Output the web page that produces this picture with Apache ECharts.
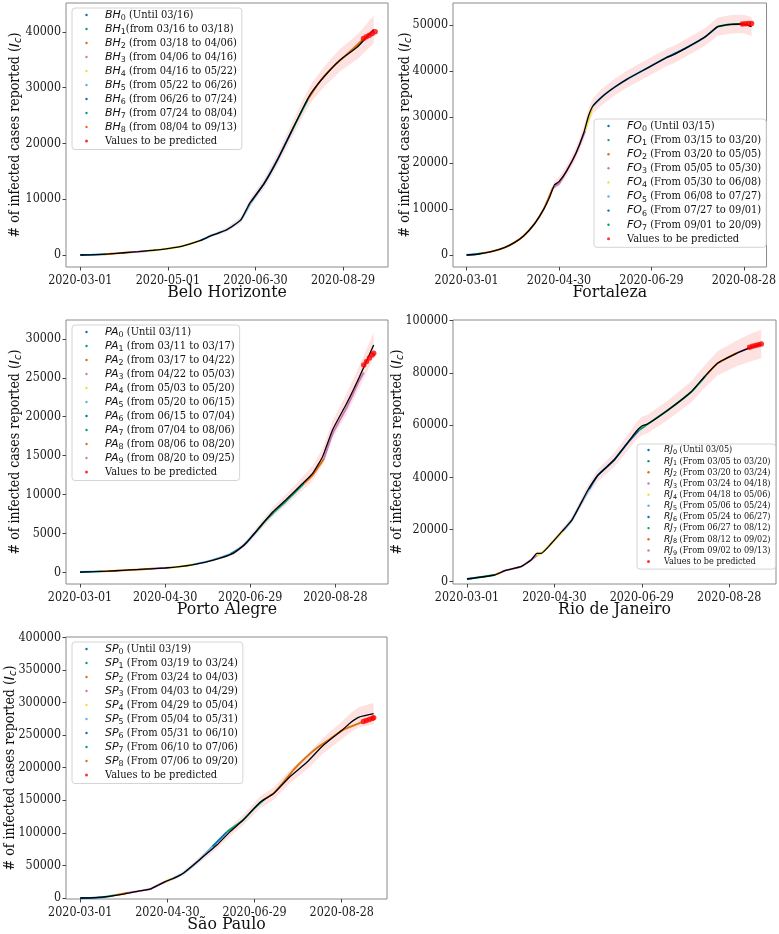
<!DOCTYPE html>
<html><head><meta charset="utf-8">
<script src="https://cdn.jsdelivr.net/npm/echarts@6/dist/echarts.min.js"></script>
<style>html,body{margin:0;padding:0;background:#fff}#c{width:779px;height:934px}</style>
</head><body><div id="c"></div>
<script>
// ---------------- DATA (day index from 2020-03-01) ----------------
// Belo Horizonte
const bhFitDays = [0,10,20,30,40,50,61,70,82,90,100,110,116,126,135,144,153,158,167,178,190,201];
const bhFitVals = [0,60,200,400,600,850,1200,1600,2570,3500,4480,6300,9260,12850,17030,21800,26580,28970,31950,34950,37330,40400];
const bhBandHalf = [20,30,40,50,60,80,100,130,200,280,400,550,700,900,1100,1300,1500,1600,1800,2000,2200,2500];
const bhObsDays = [0,8,15,17,25,36,46,55,65,74,82,90,100,110,117,126,135,145,150,156,165,175,185,194];
const bhObsVals = [0,40,110,140,300,520,720,1000,1350,1900,2570,3500,4480,6300,9500,12850,17030,22300,24900,27900,31400,34200,36500,38700];
const bhPredDays = [194,196,198,200,202];
const bhPredVals = [38800,39100,39400,39700,40000];
const bhSegStarts = [0,15,17,36,46,82,117,145,156];
const bhLegend = [' (Until 03/16)','(from 03/16 to 03/18)',' (from 03/18 to 04/06)',' (from 04/06 to 04/16)',' (from 04/16 to 05/22)',' (from 05/22 to 06/26)',' (from 06/26 to 07/24)',' (from 07/24 to 08/04)',' (from 08/04 to 09/13)'];
const bhXTicks = ['2020-03-01','2020-05-01','2020-06-30','2020-08-29'];
const bhYTicks = [0,10000,20000,30000,40000];

// Fortaleza
const foFitDays = [0,8,16,25,31,37,44,50,54,57,60,65,71,76,79,82,88,96,104,117,130,134,142,155,163,172,180,185];
const foFitVals = [0,220,720,1670,2680,4130,6740,9930,12680,15220,15940,18300,22100,26450,30070,32390,34410,36450,38190,40580,42970,43480,44930,47460,49640,50150,50220,49640];
const foBandHalf = [30,40,60,80,100,150,250,400,600,800,1000,1200,1300,1500,1600,1700,1800,1800,1850,1900,1900,1900,1900,1900,2000,2000,2000,2100];
const foObsDays = [0,6,10,16,25,31,37,44,50,56,60,65,71,77,82,88,96,104,117,130,142,155,163,170,178];
const foObsVals = [0,160,400,720,1670,2680,4130,6740,9930,14600,15500,18300,22100,27000,32390,34410,36450,38190,40580,42970,44930,47460,49640,50100,50200];
const foPredDays = [179,181,183,185];
const foPredVals = [50200,50250,50300,50300];
const foSegStarts = [0,6,10,56,77,82,130,163];
const foLegend = [' (Until 03/15)',' (From 03/15 to 03/20)',' (From 03/20 to 05/05)',' (From 05/05 to 05/30)',' (From 05/30 to 06/08)',' (From 06/08 to 07/27)',' (From 07/27 to 09/01)',' (From 09/01 to 20/09)'];
const foXTicks = ['2020-03-01','2020-04-30','2020-06-29','2020-08-28'];
const foYTicks = [0,10000,20000,30000,40000,50000];

// Porto Alegre
const paFitDays = [0,10,20,30,40,50,60,70,80,94,108,117,122,126,136,145,157,164,171,178,188,197,207];
const paFitVals = [30,80,150,250,350,450,550,720,1000,1580,2440,3730,4800,5660,7790,9300,11440,12730,14860,18300,21730,25150,29230];
const paBandHalf = [20,20,30,30,40,50,60,70,90,150,250,350,420,480,600,700,850,950,1050,1150,1300,1450,1600];
const paObsDays = [0,10,16,25,35,45,52,63,70,80,90,100,106,115,125,130,136,145,150,158,164,172,178,188,197,200];
const paObsVals = [30,80,120,200,300,400,480,600,720,1000,1400,1950,2350,3400,5400,6500,7600,9100,10000,11440,12500,14600,17800,21200,24700,25700];
const paPredDays = [200,202,204,206,207];
const paPredVals = [26650,27100,27550,27950,28150];
const paSegStarts = [0,10,16,52,63,80,106,125,158,172];
const paLegend = [' (Until 03/11)',' (from 03/11 to 03/17)',' (from 03/17 to 04/22)',' (from 04/22 to 05/03)',' (from 05/03 to 05/20)',' (from 05/20 to 06/15)',' (from 06/15 to 07/04)',' (from 07/04 to 08/06)',' (from 08/06 to 08/20)',' (from 08/20 to 09/25)'];
const paXTicks = ['2020-03-01','2020-04-30','2020-06-29','2020-08-28'];
const paYTicks = [0,5000,10000,15000,20000,25000,30000];

// Rio de Janeiro
const rjFitDays = [0,19,26,37,44,48,51,58,65,72,77,83,90,101,110,116,120,124,138,154,163,172,186,195,202];
const rjFitVals = [1030,2570,4210,5750,8310,10880,10880,14710,19160,23640,28740,35130,40880,46630,53030,57470,59660,60420,65790,72800,78540,83680,87740,89810,91070];
const rjBandHalf = [150,250,350,450,550,600,650,800,1000,1300,1600,1900,2300,2700,3000,3300,3500,3500,3700,4000,4300,4600,5000,5300,5500];
const rjObsDays = [0,4,19,23,26,37,44,48,51,58,66,72,77,84,90,101,110,118,124,138,154,164,172,185,194];
const rjObsVals = [1030,1300,2570,3500,4210,5750,8310,10000,10880,14710,19500,23640,28740,35500,40880,46630,53030,58000,60400,65790,72800,79000,83680,87600,89700];
const rjPredDays = [194,196,198,200,202];
const rjPredVals = [89800,90200,90500,90800,91100];
const rjSegStarts = [0,4,19,23,48,66,84,118,164,185];
const rjLegend = [' (Until 03/05)',' (From 03/05 to 03/20)',' (From 03/20 to 03/24)',' (From 03/24 to 04/18)',' (From 04/18 to 05/06)',' (From 05/06 to 05/24)',' (From 05/24 to 06/27)',' (From 06/27 to 08/12)',' (From 08/12 to 09/02)',' (From 09/02 to 09/13)'];
const rjXTicks = ['2020-03-01','2020-04-30','2020-06-29','2020-08-28'];
const rjYTicks = [0,20000,40000,60000,80000,100000];

// São Paulo
const spFitDays = [0,10,20,30,40,48,54,59,65,71,82,94,103,112,124,133,144,156,167,181,186,192,202];
const spFitVals = [0,500,2500,6000,10500,13500,20000,25400,31000,38100,58400,81200,101500,119200,147200,159900,185300,208200,233500,258900,269000,277600,282800];
const spBandHalf = [200,300,500,800,1000,1500,2000,2500,3000,3500,4500,6000,7000,8000,9000,9500,10000,11000,12000,13500,14500,15500,16500];
const spObsDays = [0,10,18,24,33,40,48,54,59,64,71,82,91,101,112,120,127,133,140,147,155,164,172,181,188,194];
const spObsVals = [0,500,2000,4500,8000,10500,13500,20500,25400,30000,38100,58400,79000,101500,119200,138000,152000,160500,178000,197000,215000,232000,244000,258000,264500,270000];
const spPredDays = [195,197,199,201,202];
const spPredVals = [271000,272500,274000,275500,276500];
const spSegStarts = [0,18,23,33,59,64,91,101,127];
const spLegend = [' (Until 03/19)',' (From 03/19 to 03/24)',' (From 03/24 to 04/03)',' (From 04/03 to 04/29)',' (From 04/29 to 05/04)',' (From 05/04 to 05/31)',' (From 05/31 to 06/10)',' (From 06/10 to 07/06)',' (From 07/06 to 09/20)'];
const spXTicks = ['2020-03-01','2020-04-30','2020-06-29','2020-08-28'];
const spYTicks = [0,50000,100000,150000,200000,250000,300000,350000,400000];

const tickDays = [0,60,120,180];
const predName = 'Values to be predicted';

// ---------------- STYLE / LAYOUT ----------------
const SERIF = "'DejaVu Serif Condensed','Liberation Serif',serif";
const SANS = "'DejaVu Sans',sans-serif";
const palette = ['#0173b2','#029e73','#de6f0c','#cc78bc','#ece133','#56b4e9'];
const BAND = 'rgba(248,110,110,0.2)';
const SMOOTH = 0.15;

const panels = [
  {title:'Belo Horizonte', prefix:'BH', fitD:bhFitDays, fitV:bhFitVals, hw:bhBandHalf, obsD:bhObsDays, obsV:bhObsVals, predD:bhPredDays, predV:bhPredVals, seg:bhSegStarts, leg:bhLegend, xt:bhXTicks, yt:bhYTicks,
   grid:{left:66, top:3, width:322, height:264}, x:[-9.8,210.8], y:[-2150,45160], nameGap:43,
   legend:{left:72, top:8, fs:11, lh:14, gap:1.5, iw:27}},
  {title:'Fortaleza', prefix:'FO', fitD:foFitDays, fitV:foFitVals, hw:foBandHalf, obsD:foObsDays, obsV:foObsVals, predD:foPredDays, predV:foPredVals, seg:foSegStarts, leg:foLegend, xt:foXTicks, yt:foYTicks,
   grid:{left:453, top:3, width:324, height:264}, x:[-8.8,194.7], y:[-2610,54780], nameGap:40,
   legend:{left:594, top:119, fs:11, lh:14, gap:1.6, iw:27}},
  {title:'Porto Alegre', prefix:'PA', fitD:paFitDays, fitV:paFitVals, hw:paBandHalf, obsD:paObsDays, obsV:paObsVals, predD:paPredDays, predV:paPredVals, seg:paSegStarts, leg:paLegend, xt:paXTicks, yt:paYTicks,
   grid:{left:66, top:320, width:322, height:264}, x:[-9.86,217.1], y:[-1505,32440], nameGap:43,
   legend:{left:72, top:325, fs:11, lh:14, gap:1.5, iw:27}},
  {title:'Rio de Janeiro', prefix:'RJ', fitD:rjFitDays, fitV:rjFitVals, hw:rjBandHalf, obsD:rjObsDays, obsV:rjObsVals, predD:rjPredDays, predV:rjPredVals, seg:rjSegStarts, leg:rjLegend, xt:rjXTicks, yt:rjYTicks,
   grid:{left:453, top:320, width:323, height:264}, x:[-9.6,212.1], y:[-880,100270], nameGap:48,
   legend:{left:637, top:444, fs:9, lh:11, gap:1.16, iw:21}},
  {title:'São Paulo', prefix:'SP', fitD:spFitDays, fitV:spFitVals, hw:spBandHalf, obsD:spObsDays, obsV:spObsVals, predD:spPredDays, predV:spPredVals, seg:spSegStarts, leg:spLegend, xt:spXTicks, yt:spYTicks,
   grid:{left:66, top:637, width:321, height:264}, x:[-9.8,211.2], y:[-1520,400490], nameGap:48,
   legend:{left:72, top:642, fs:11, lh:14, gap:1.5, iw:27}}
];

const grids = [], xAxes = [], yAxes = [], series = [], legends = [];

panels.forEach((p, gi) => {
  grids.push(Object.assign({show:true, borderColor:'#8a8a8a', borderWidth:1, backgroundColor:'rgba(0,0,0,0)'}, p.grid));
  xAxes.push({
    type:'value', gridIndex:gi, min:p.x[0], max:p.x[1],
    axisLine:{show:false, onZero:false},
    axisTick:{show:true, customValues:tickDays, length:3.5, lineStyle:{color:'#444', width:1}},
    axisLabel:{customValues:tickDays, formatter:(v)=>p.xt[tickDays.indexOf(v)] || '', margin:8,
      fontFamily:SERIF, fontSize:12.4, color:'#1a1a1a'},
    splitLine:{show:false},
    name:p.title, nameLocation:'middle', nameGap:16, nameMoveOverlap:false,
    nameTextStyle:{fontFamily:SERIF, fontSize:17.5, color:'#111'}
  });
  yAxes.push({
    type:'value', gridIndex:gi, min:p.y[0], max:p.y[1],
    axisLine:{show:false, onZero:false},
    axisTick:{show:true, customValues:p.yt, length:3.5, lineStyle:{color:'#444', width:1}},
    axisLabel:{customValues:p.yt, formatter:(v)=>String(v), margin:5,
      fontFamily:SERIF, fontSize:12.4, color:'#1a1a1a'},
    splitLine:{show:false},
    name:'{a|# of infected cases reported (}{it|I}{sub|c}{a|)}',
    nameLocation:'middle', nameGap:p.nameGap, nameMoveOverlap:false,
    nameTextStyle:{color:'#111', rich:{
      a:{fontFamily:SERIF, fontSize:14, color:'#111', lineHeight:16},
      it:{fontFamily:SANS, fontStyle:'italic', fontSize:14, color:'#111', lineHeight:16},
      sub:{fontFamily:SANS, fontStyle:'italic', fontSize:10, color:'#111', lineHeight:10, verticalAlign:'bottom'}
    }}
  });

  // confidence band: polygon through fit ± half-width, positioned by the axes
  series.push({type:'custom', name:'band'+gi, xAxisIndex:gi, yAxisIndex:gi, silent:true, z:1, clip:true,
    data:[[p.fitD[0], p.fitV[0]]],
    renderItem:(params, api) => {
      const up = p.fitD.map((d,i)=>api.coord([d, p.fitV[i]+p.hw[i]]));
      const lo = p.fitD.map((d,i)=>api.coord([d, p.fitV[i]-p.hw[i]])).reverse();
      return {type:'polygon', shape:{points:up.concat(lo)}, style:{fill:BAND}};
    }});

  // observed segments
  const legNames = [];
  p.seg.forEach((s, k) => {
    const e = k+1 < p.seg.length ? p.seg[k+1] : Infinity;
    const pts = [];
    for (let i=0;i<p.obsD.length;i++) if (p.obsD[i] >= s && p.obsD[i] <= e) pts.push([p.obsD[i], p.obsV[i]]);
    if (e !== Infinity && (pts.length === 0 || pts[pts.length-1][0] < e)) {
      const ni = p.obsD.findIndex(d => d > e);
      if (ni >= 0) pts.push([p.obsD[ni], p.obsV[ni]]);
    }
    const name = p.prefix + k;
    legNames.push(name);
    const col = palette[k % palette.length];
    series.push({type:'line', name, xAxisIndex:gi, yAxisIndex:gi, data:pts,
      symbol:'circle', showSymbol:false, silent:true, smooth:SMOOTH,
      lineStyle:{color:col, width:1.9}, itemStyle:{color:col}, z:2});
  });

  // fitted curve
  series.push({type:'line', name:'fit'+gi, xAxisIndex:gi, yAxisIndex:gi,
    data:p.fitD.map((d,i)=>[d, p.fitV[i]]), symbol:'none', silent:true, smooth:SMOOTH,
    lineStyle:{color:'#000', width:1.3}, z:3});

  // predicted values
  series.push({type:'scatter', name:predName, xAxisIndex:gi, yAxisIndex:gi,
    data:p.predD.map((d,i)=>[d, p.predV[i]]), symbol:'circle', symbolSize:5.5, silent:true,
    itemStyle:{color:'#ff0000'}, z:4});

  legNames.push(predName);
  const L = p.legend;
  legends.push({
    data:legNames, orient:'vertical', left:L.left, top:L.top,
    itemWidth:L.iw, itemHeight:3, itemGap:L.gap, selectedMode:false,
    padding:[1.5, 5, 3, 0], backgroundColor:'rgba(255,255,255,0.85)',
    borderColor:'#d4d4d4', borderWidth:1, borderRadius:3,
    lineStyle:{color:'rgba(0,0,0,0)', opacity:0},
    formatter:(name)=>{
      if (name === predName) return '{t|' + name + '}';
      const k = +name.slice(p.prefix.length);
      return '{it|' + p.prefix + '}{sub|' + k + '}{t|' + p.leg[k] + '}';
    },
    textStyle:{color:'#111', rich:{
      t:{fontFamily:SERIF, fontSize:L.fs, lineHeight:L.lh, color:'#111'},
      it:{fontFamily:SANS, fontStyle:'italic', fontSize:L.fs, lineHeight:L.lh, color:'#111'},
      sub:{fontFamily:SANS, fontSize:L.fs*0.72, lineHeight:L.fs*0.8, verticalAlign:'bottom', color:'#111'}
    }}
  });
});

const chart = echarts.init(document.getElementById('c'), null, {renderer:'canvas'});
chart.setOption({
  animation:false, backgroundColor:'#fff',
  grid:grids, xAxis:xAxes, yAxis:yAxes, series, legend:legends
});
</script></body></html>
